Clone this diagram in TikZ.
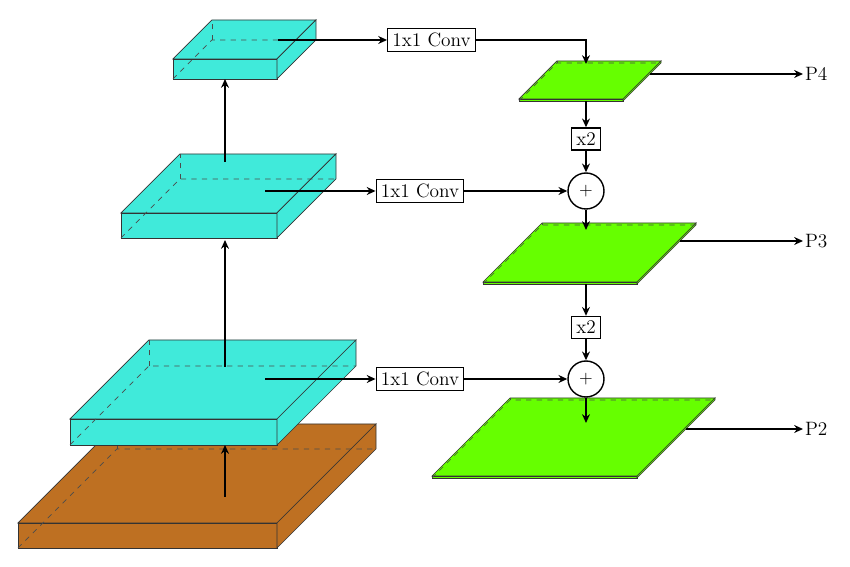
\documentclass[tikz,border=0pt]{standalone}
\usepackage{amsmath}
\usetikzlibrary{arrows.meta}
\definecolor{featcyan}{RGB}{64,234,218}
\definecolor{featbrown}{RGB}{190,112,34}
\definecolor{featgreen}{RGB}{102,255,0}
\newcommand{\slab}[6]{%
  \draw[fill=#6,draw=black!80,line width=0.4pt] (#1,#2) rectangle ({#1+#3},{#2-#4});
  \draw[fill=#6,draw=black!80,line width=0.4pt] (#1,{#2-#4}) -- ({#1+#3},{#2-#4}) -- ({#1+#3+#5},{#2-#4-#5}) -- ({#1+#5},{#2-#4-#5}) -- cycle;
  \draw[fill=#6,draw=black!80,line width=0.4pt] ({#1+#3},#2) -- ({#1+#3+#5},{#2-#5}) -- ({#1+#3+#5},{#2-#4-#5}) -- ({#1+#3},{#2-#4}) -- cycle;
  \draw[dashed,draw=black!70,line width=0.4pt] (#1,#2) -- ({#1+#5},{#2-#5}) -- ({#1+#3+#5},{#2-#5});
  \draw[dashed,draw=black!70,line width=0.4pt] ({#1+#5},{#2-#5}) -- ({#1+#5},{#2-#4-#5});
}
\tikzset{
  conv/.style={draw,thick,fill=white,inner sep=2.6pt,font=\fontsize{11}{13}\selectfont},
  add/.style={draw,thick,circle,fill=white,minimum size=0.72cm,inner sep=0pt},
  flow/.style={thick,-{Stealth[length=5pt,width=4.5pt]}},
  outname/.style={anchor=west,inner sep=1pt,font=\fontsize{11}{13}\selectfont}
}

\begin{document}
\begin{tikzpicture}[x=0.02cm,y=-0.02cm]
      \useasboundingbox (0,0) rectangle (850,567);

      \slab{18}{548}{259}{25}{99}{featbrown}
      \slab{70}{445}{207}{26}{79}{featcyan}
      \slab{121}{238}{156}{25}{59}{featcyan}
      \slab{173}{79}{104}{20}{39}{featcyan}

      \slab{519}{101}{104}{2}{38}{featgreen}
      \slab{483}{284}{154}{2}{59}{featgreen}
      \slab{432}{478}{205}{2}{78}{featgreen}

      \coordinate (c0) at (225,497);
      \coordinate (c1in) at (225,445);
      \coordinate (c1up) at (225,367);
      \coordinate (c1out) at (265,379);
      \coordinate (c2in) at (225,240);
      \coordinate (c2up) at (225,162);
      \coordinate (c2out) at (265,191);
      \coordinate (c3in) at (225,79);
      \coordinate (c3out) at (278,40);

      \coordinate (g4in) at (586,64);
      \coordinate (g4down) at (586,101);
      \coordinate (g4out) at (650,74);
      \coordinate (g3in) at (586,230);
      \coordinate (g3down) at (586,284);
      \coordinate (g3out) at (680,241);
      \coordinate (g2in) at (586,423);
      \coordinate (g2out) at (686,429);

      \node[conv] (conv4) at (431.5,40) {1x1 Conv};
      \node[conv] (conv3) at (420,191) {1x1 Conv};
      \node[conv] (conv2) at (420,379) {1x1 Conv};
      \node[conv] (up4) at (586,139) {x2};
      \node[conv] (up3) at (586,327.5) {x2};
      \node[add] (add3) at (586,191) {$+$};
      \node[add] (add2) at (586,379) {$+$};
      \node[outname] (p4) at (803,74) {P4};
      \node[outname] (p3) at (803,241) {P3};
      \node[outname] (p2) at (803,429) {P2};

      \draw[flow] (c0) -- (c1in);
      \draw[flow] (c1up) -- (c2in);
      \draw[flow] (c2up) -- (c3in);
      \draw[flow] (c3out) -- (conv4);
      \draw[flow] (c2out) -- (conv3);
      \draw[flow] (c1out) -- (conv2);

      \draw[flow] (conv4) -| (g4in);
      \draw[flow] (g4down) -- (up4);
      \draw[flow] (up4) -- (add3);
      \draw[flow] (conv3) -- (add3);
      \draw[flow] (add3) -- (g3in);
      \draw[flow] (g3down) -- (up3);
      \draw[flow] (up3) -- (add2);
      \draw[flow] (conv2) -- (add2);
      \draw[flow] (add2) -- (g2in);

      \draw[flow] (g4out) -- (p4);
      \draw[flow] (g3out) -- (p3);
      \draw[flow] (g2out) -- (p2);
    \end{tikzpicture}
\end{document}
